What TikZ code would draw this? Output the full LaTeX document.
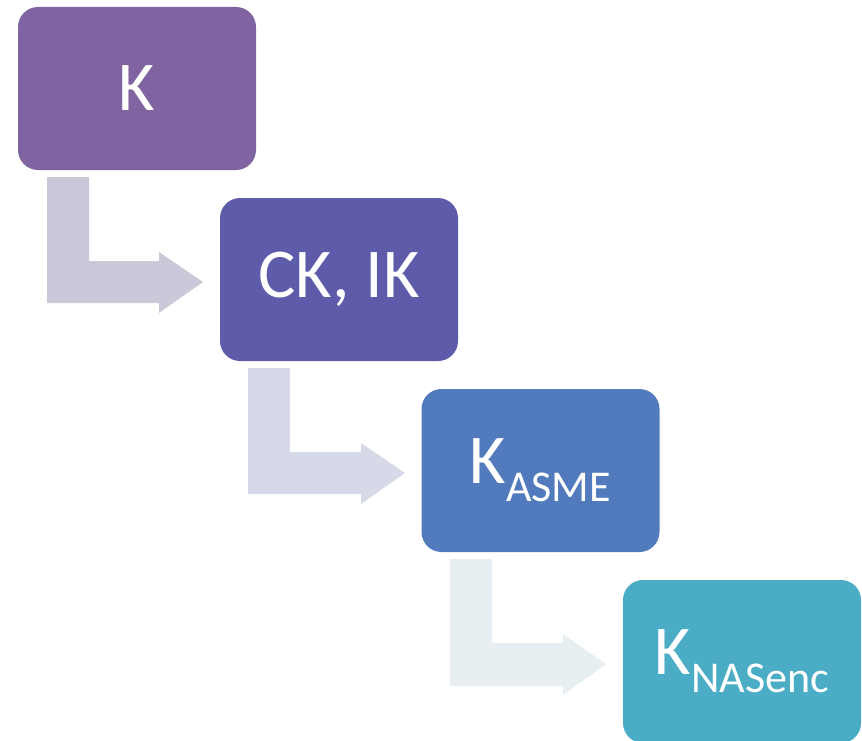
\documentclass[tikz,border=0pt]{standalone}
\usepackage{fontspec}
\setmainfont{Carlito}
\definecolor{cA}{HTML}{8064A2}
\definecolor{cB}{HTML}{5F5BAB}
\definecolor{cC}{HTML}{517BBD}
\definecolor{cD}{HTML}{4BACC6}
\definecolor{aA}{HTML}{CDC7DA}
\definecolor{aB}{HTML}{D6D9E8}
\definecolor{aC}{HTML}{E8EFF3}
\begin{document}
\begin{tikzpicture}[x=1pt,y=-1pt,
  stage/.style={rounded corners=20pt,minimum width=238pt,minimum height=163pt,inner sep=0pt,text=white,font=\fontsize{70}{70}\selectfont},
  bent/.style={draw=none}]
\useasboundingbox (0,0) rectangle (862,741);
\newcommand{\bentarrow}[3]{%
  \fill[#3] ($(#1)+(0,0)$) -- ++(42,0) -- ++(0,84) -- ++(70,0) -- ++(0,-9) -- ++(44,30) -- ++(-44,31) -- ++(0,-10) -- ++(-112,0) -- cycle;}
\node[stage,fill=cA] (b1) at (137,88.5) {K};
\node[stage,fill=cB] (b2) at (339,279.5) {CK, IK};
\node[stage,fill=cC] (b3) at (540.5,470.5) {K\raisebox{-18pt}{\fontsize{44}{44}\selectfont ASME}};
\node[stage,fill=cD] (b4) at (742,661.5) {K\raisebox{-18pt}{\fontsize{44}{44}\selectfont NASenc}};
\fill[aA] (47,177) -- (89,177) -- (89,261) -- (159,261) -- (159,252) -- (203,282) -- (159,313) -- (159,303) -- (47,303) -- cycle;
\fill[aB] (248,368) -- (290,368) -- (290,452) -- (361,452) -- (361,443) -- (405,473) -- (361,504) -- (361,494) -- (248,494) -- cycle;
\fill[aC] (450,559) -- (492,559) -- (492,643) -- (563,643) -- (563,634) -- (606,664) -- (563,695) -- (563,686) -- (450,686) -- cycle;
\end{tikzpicture}
\end{document}
